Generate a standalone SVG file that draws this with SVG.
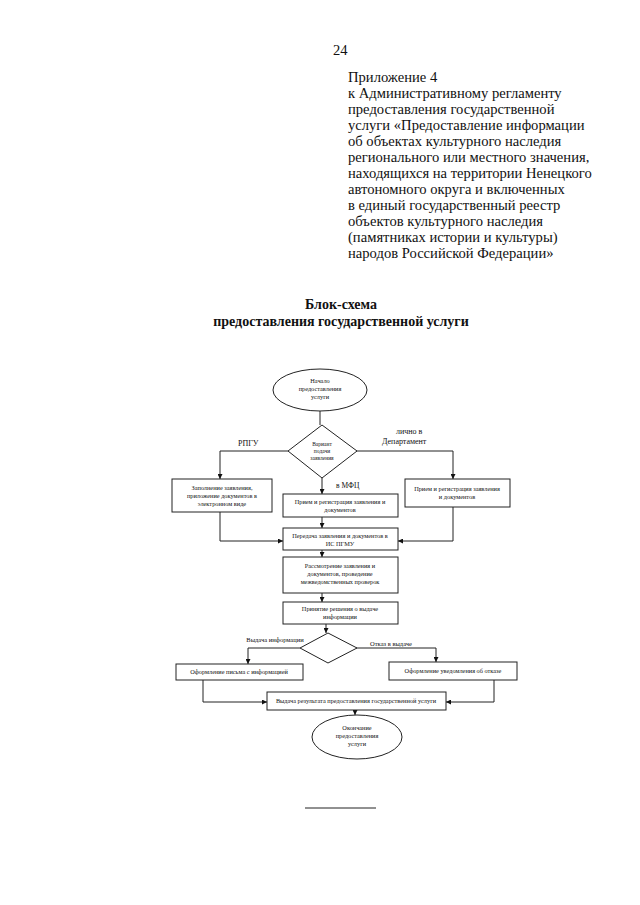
<svg xmlns="http://www.w3.org/2000/svg" width="640" height="905" viewBox="0 0 640 905">
<defs>
<marker id="ah" viewBox="0 0 6 6" refX="6" refY="3" markerWidth="5" markerHeight="5" orient="auto" markerUnits="userSpaceOnUse">
<path d="M0,0 L6,3 L0,6 z" fill="#111"/>
</marker>
<style>
.hd{font-family:"Liberation Serif","Times New Roman",serif;font-size:14.6px;fill:#111}
.tt{font-family:"Liberation Serif","Times New Roman",serif;font-size:14px;font-weight:bold;fill:#111;text-anchor:middle}
.bx{fill:#fff;stroke:#222;stroke-width:1}
.t{font-family:"Liberation Serif","Times New Roman",serif;font-size:6.3px;fill:#111;text-anchor:middle}
.lb{font-family:"Liberation Serif","Times New Roman",serif;font-size:8px;fill:#111}
.ln{fill:none;stroke:#222;stroke-width:1}
.ar{fill:none;stroke:#222;stroke-width:1;marker-end:url(#ah)}
</style>
</defs>
<rect width="640" height="905" fill="#fff"/>

<text class="hd" x="333" y="55">24</text>
<g id="header">
<text class="hd" x="348" y="82">Приложение 4</text>
<text class="hd" x="348" y="98">к Административному регламенту</text>
<text class="hd" x="348" y="114">предоставления государственной</text>
<text class="hd" x="348" y="130">услуги «Предоставление информации</text>
<text class="hd" x="348" y="146">об объектах культурного наследия</text>
<text class="hd" x="348" y="162">регионального или местного значения,</text>
<text class="hd" x="348" y="178">находящихся на территории Ненецкого</text>
<text class="hd" x="348" y="194">автономного округа и включенных</text>
<text class="hd" x="348" y="210">в единый государственный реестр</text>
<text class="hd" x="348" y="226">объектов культурного наследия</text>
<text class="hd" x="348" y="242">(памятниках истории и культуры)</text>
<text class="hd" x="348" y="258">народов Российской Федерации»</text>
</g>
<g id="title">
<text class="tt" x="341" y="309">Блок-схема</text>
<text class="tt" x="341" y="326">предоставления государственной услуги</text>
</g>

<g id="connectors">
<path class="ln" d="M320,411 V425"/>
<path class="ar" d="M288,451 H220 V479"/>
<path class="ar" d="M356,451 H453 V479"/>
<path class="ar" d="M322,478 V494"/>
<path class="ar" d="M322,517 V528"/>
<path class="ar" d="M220,512 V541 H283"/>
<path class="ar" d="M453,507 V541 H398"/>
<path class="ar" d="M322,550 V557"/>
<path class="ar" d="M322,593 V602"/>
<path class="ar" d="M326,624 V633"/>
<path class="ar" d="M300,648 H248 V664"/>
<path class="ar" d="M356,648 H436 V662"/>
<path class="ar" d="M203,680 V702 H267"/>
<path class="ar" d="M494,680 V702 H446"/>
<path class="ar" d="M355,710 V715"/>
</g>

<g id="start">
<ellipse class="bx" cx="320" cy="390" rx="47" ry="21"/>
<text class="t" x="320" y="383">Начало</text>
<text class="t" x="320" y="391">предоставления</text>
<text class="t" x="320" y="399">услуги</text>
</g>
<g id="decision1">
<path class="bx" d="M322,425 L357,451 L322,478 L288,451 z"/>
<text class="t" x="322" y="446" style="font-size:5.5px">Вариант</text>
<text class="t" x="322" y="453" style="font-size:5.5px">подачи</text>
<text class="t" x="322" y="460" style="font-size:5.5px">заявления</text>
</g>
<text class="lb" x="238" y="446">РПГУ</text>
<text class="lb" x="396" y="434">лично в</text>
<text class="lb" x="382" y="444">Департамент</text>
<text class="lb" x="336" y="488" style="font-size:7.5px">в МФЦ</text>

<g id="fill-online">
<rect class="bx" x="172" y="479" width="100" height="33"/>
<text class="t" x="222" y="490">Заполнение заявления,</text>
<text class="t" x="222" y="498">приложение документов в</text>
<text class="t" x="222" y="506">электронном виде</text>
</g>
<g id="reception-dept">
<rect class="bx" x="405" y="479" width="105" height="28"/>
<text class="t" x="457" y="491">Прием и регистрация заявления</text>
<text class="t" x="457" y="499">и документов</text>
</g>
<g id="reception-mfc">
<rect class="bx" x="283" y="494" width="115" height="23"/>
<text class="t" x="340" y="504">Прием и регистрация заявления и</text>
<text class="t" x="340" y="512">документов</text>
</g>
<g id="transfer">
<rect class="bx" x="283" y="528" width="115" height="22"/>
<text class="t" x="340" y="538">Передача заявления и документов в</text>
<text class="t" x="340" y="546">ИС ПГМУ</text>
</g>
<g id="review">
<rect class="bx" x="283" y="557" width="115" height="36"/>
<text class="t" x="340" y="568">Рассмотрение заявления и</text>
<text class="t" x="340" y="576">документов, проведение</text>
<text class="t" x="340" y="584">межведомственных проверок</text>
</g>
<g id="decision-making">
<rect class="bx" x="283" y="602" width="115" height="22"/>
<text class="t" x="340" y="611">Принятие решения о выдаче</text>
<text class="t" x="340" y="619">информации</text>
</g>
<g id="decision2">
<path class="bx" d="M328,633 L357,648 L328,663 L300,648 z"/>
</g>
<text class="t" x="275" y="642" style="font-size:6.5px">Выдача информации</text>
<text class="t" x="391" y="646" style="font-size:6.5px">Отказ в выдаче</text>
<g id="letter">
<rect class="bx" x="176" y="664" width="127" height="16"/>
<text class="t" x="239" y="674">Оформление письма с информацией</text>
</g>
<g id="refusal">
<rect class="bx" x="389" y="662" width="128" height="18"/>
<text class="t" x="453" y="673">Оформление уведомления об отказе</text>
</g>
<g id="result">
<rect class="bx" x="267" y="692" width="179" height="18"/>
<text class="t" x="356" y="703">Выдача результата предоставления государственной услуги</text>
</g>
<g id="end">
<ellipse class="bx" cx="357" cy="737" rx="45" ry="22"/>
<text class="t" x="357" y="730">Окончание</text>
<text class="t" x="357" y="738">предоставления</text>
<text class="t" x="357" y="746">услуги</text>
</g>
<path class="ln" d="M305,808 H376"/>
</svg>
